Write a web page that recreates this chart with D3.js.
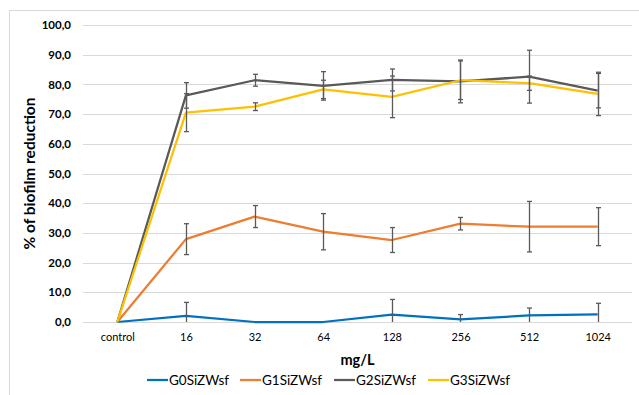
<!DOCTYPE html>
<html>
<head>
<meta charset="utf-8">
<title>% of biofilm reduction</title>
<script src="https://d3js.org/d3.v7.min.js"></script>
<style>
    body { margin: 0; background: #fff; }
    text { font-family: Lato, "Open Sans", sans-serif; fill: #000; }
    .grid line { stroke: #d9d9d9; stroke-width: 1px; }
    .err { stroke: #5a5a5a; stroke-width: 1.3px; }
</style>
</head>
<body>
<div id="chart"></div>
<script>

    // categories on the x axis
    var categories = ["control", "16", "32", "64", "128", "256", "512", "1024"];
    var seriesNames = ["G0SiZWsf", "G1SiZWsf", "G2SiZWsf", "G3SiZWsf"];
    var seriesColors = ["#0070C0", "#ED7D31", "#595959", "#FFC000"];

    // means
    var g0 = [0, 2.1, 0, 0, 2.5, 0.9, 2.2, 2.6];
    var g1 = [0, 27.9, 35.5, 30.4, 27.6, 33.1, 32.1, 32.1];
    var g2 = [0, 76.3, 81.4, 79.5, 81.5, 81.0, 82.6, 77.9];
    var g3 = [0, 70.5, 72.5, 78.3, 75.8, 81.4, 80.4, 76.8];

    // error bar half widths (standard deviation)
    var g0Err = [0, 4.5, 0, 0, 5.1, 1.6, 2.5, 3.7];
    var g1Err = [0, 5.2, 3.7, 6.1, 4.2, 2.1, 8.5, 6.4];
    var g2Err = [0, 4.3, 2.0, 4.8, 3.7, 7.2, 8.9, 5.8];
    var g3Err = [0, 6.4, 1.3, 3.1, 7.0, 6.5, 2.4, 7.3];

    var yTicks = [0, 10, 20, 30, 40, 50, 60, 70, 80, 90, 100];

    var seriesVals = [g0, g1, g2, g3];
    var seriesErrs = [g0Err, g1Err, g2Err, g3Err];

    var width = 639, height = 395;
    var margin = { left: 83, right: 7, top: 25, bottom: 73 };

    var svg = d3.select("#chart").append("svg")
        .attr("width", width)
        .attr("height", height);

    // chart area border
    svg.append("rect")
        .attr("x", 9.5).attr("y", 10.5)
        .attr("width", 640).attr("height", 400)
        .attr("fill", "none")
        .attr("stroke", "#d9d9d9");

    var x = d3.scalePoint()
        .domain(categories)
        .range([margin.left, width - margin.right])
        .padding(0.5);

    var y = d3.scaleLinear()
        .domain([0, 100])
        .range([height - margin.bottom, margin.top]);

    // gridlines
    svg.append("g")
        .attr("class", "grid")
        .selectAll("line")
        .data(yTicks)
        .enter().append("line")
        .attr("x1", margin.left)
        .attr("x2", width - margin.right)
        .attr("y1", function(d) { return Math.round(y(d)) + 0.5; })
        .attr("y2", function(d) { return Math.round(y(d)) + 0.5; });

    // y axis labels
    var yAxis = d3.axisLeft(y)
        .tickValues(yTicks)
        .tickSize(0)
        .tickPadding(12)
        .tickFormat(function(d) { return d3.format(".1f")(d).replace(".", ","); });

    svg.append("g")
        .attr("transform", "translate(" + margin.left + ",0)")
        .call(yAxis)
        .call(function(g) { g.select(".domain").remove(); })
        .selectAll("text")
        .style("font-size", "11.5px")
        .style("font-weight", "bold");

    // x axis labels
    var xAxis = d3.axisBottom(x).tickSize(0).tickPadding(11);
    svg.append("g")
        .attr("transform", "translate(0," + (height - margin.bottom) + ")")
        .call(xAxis)
        .call(function(g) { g.select(".domain").remove(); })
        .selectAll("text")
        .style("font-size", "11px");

    // axis titles
    svg.append("text")
        .attr("transform", "translate(35," + ((y(0) + y(100)) / 2) + ") rotate(-90)")
        .attr("text-anchor", "middle")
        .style("font-size", "15.5px")
        .style("font-weight", "bold")
        .text("% of biofilm reduction");

    svg.append("text")
        .attr("x", (x("control") + x("1024")) / 2)
        .attr("y", 365)
        .attr("text-anchor", "middle")
        .style("font-size", "14.5px")
        .style("font-weight", "bold")
        .text("mg/L");

    var line = d3.line()
        .x(function(d, i) { return x(categories[i]); })
        .y(function(d) { return y(d); });

    // series lines
    svg.append("g").selectAll("path")
        .data(seriesVals)
        .enter().append("path")
        .attr("d", line)
        .attr("fill", "none")
        .attr("stroke", function(d, i) { return seriesColors[i]; })
        .attr("stroke-width", 2.25)
        .attr("stroke-linejoin", "round");

    // error bars
    var capW = 2.5;
    seriesVals.forEach(function(vals, s) {
        var errs = seriesErrs[s];
        var eg = svg.append("g").attr("class", "err");
        categories.forEach(function(c, i) {
            if (!errs[i]) return;
            var cx = Math.round(x(c)) + 0.5;
            var hi = Math.min(100, vals[i] + errs[i]);
            var lo = Math.max(0, vals[i] - errs[i]);
            eg.append("line")
                .attr("x1", cx).attr("x2", cx)
                .attr("y1", y(hi)).attr("y2", y(lo));
            eg.append("line")
                .attr("x1", cx - capW).attr("x2", cx + capW)
                .attr("y1", y(hi)).attr("y2", y(hi));
            if (vals[i] - errs[i] >= 0) {
                eg.append("line")
                    .attr("x1", cx - capW).attr("x2", cx + capW)
                    .attr("y1", y(lo)).attr("y2", y(lo));
            }
        });
    });

    // legend
    var legendX = [147, 240, 334, 428];
    var legend = svg.append("g").selectAll("g")
        .data(seriesNames)
        .enter().append("g")
        .attr("transform", function(d, i) { return "translate(" + legendX[i] + ",380)"; });

    legend.append("line")
        .attr("x1", 0).attr("x2", 21)
        .attr("y1", 0).attr("y2", 0)
        .attr("stroke", function(d, i) { return seriesColors[i]; })
        .attr("stroke-width", 2.25);

    legend.append("text")
        .attr("x", 22)
        .attr("y", 5)
        .style("font-size", "13.5px")
        .text(function(d) { return d; });

</script>
</body>
</html>
